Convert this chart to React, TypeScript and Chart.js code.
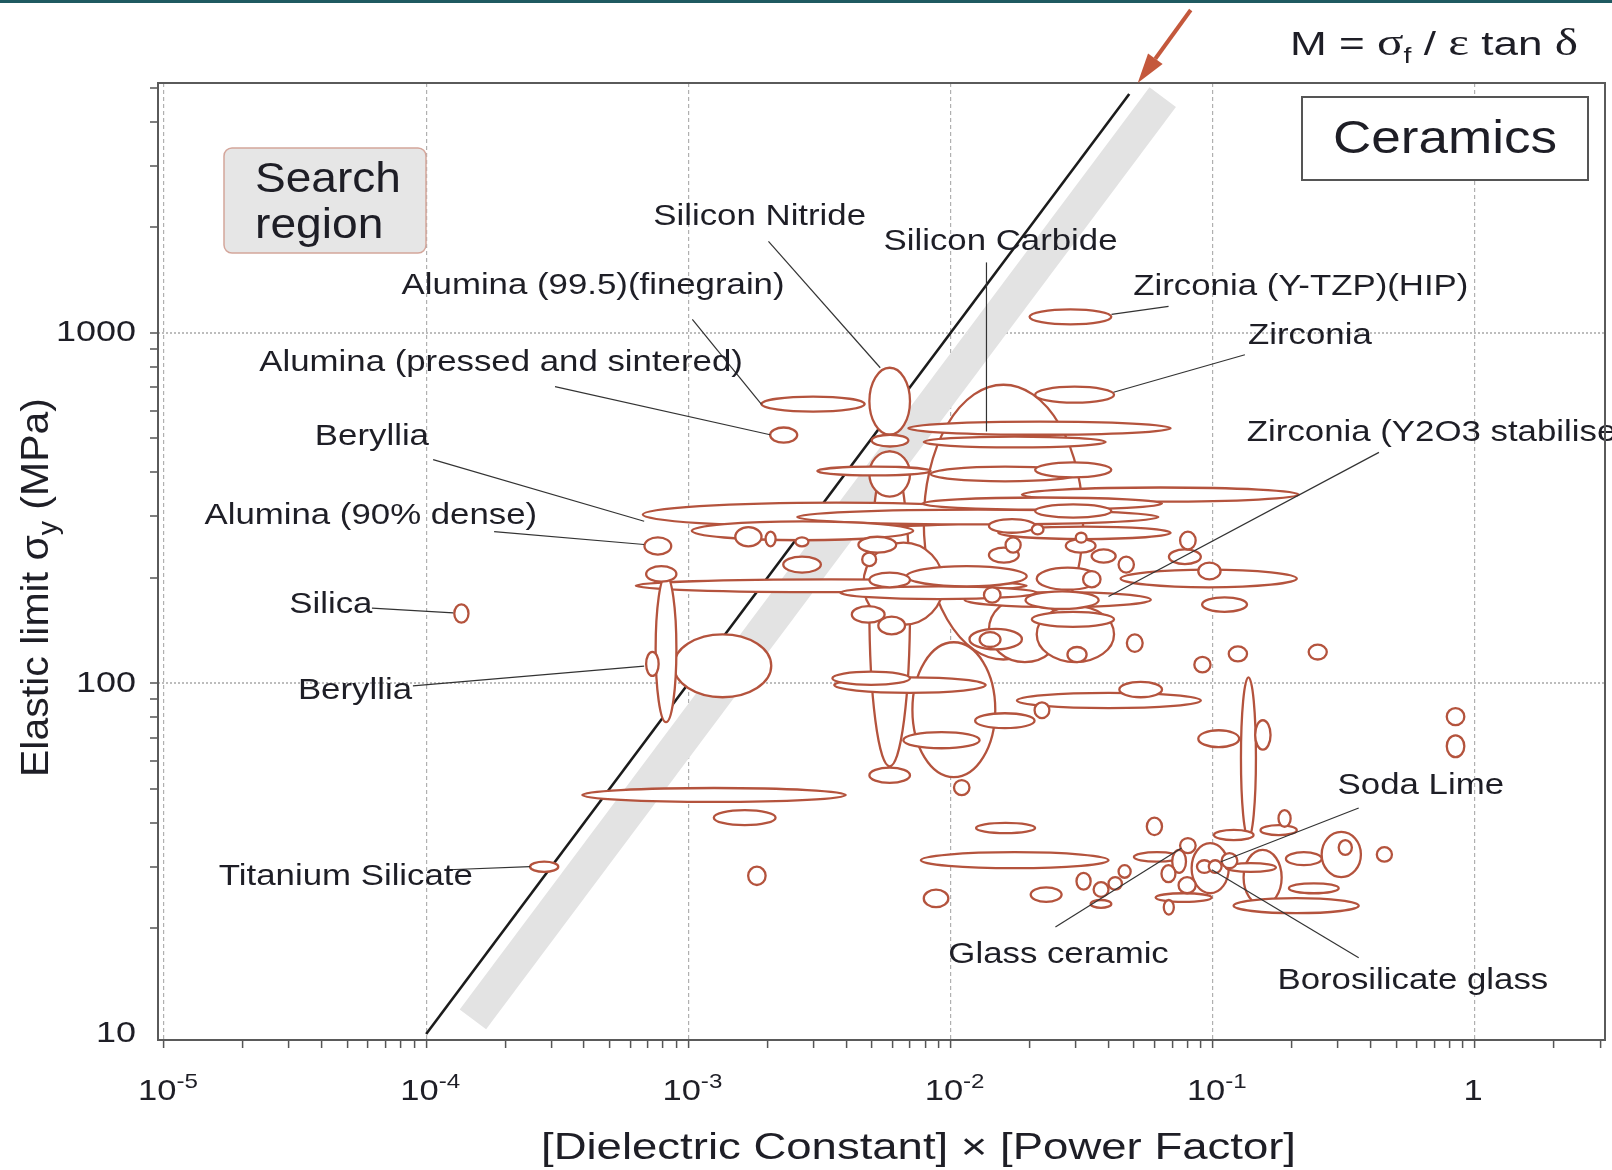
import React, { useEffect, useRef } from 'react';
import { Chart, registerables } from 'chart.js';

Chart.register(...registerables);

const FONT = '"Liberation Sans", Arial, Helvetica, sans-serif';
const SERIF = '"Liberation Serif", "Times New Roman", serif';
const RED = '#b4533d';
const ARROW = '#c4583c';
const INK = '#1e1e26';

// axis ranges
const X_MIN = 9.49e-6;
const X_MAX = 3.13;
const Y_MIN = 9.61;
const Y_MAX = 5160;

// tick labels
const xMajorTicks = [1e-5, 1e-4, 1e-3, 1e-2, 1e-1, 1];
const xTickLabels: [string, string][] = [['10', '-5'], ['10', '-4'], ['10', '-3'], ['10', '-2'], ['10', '-1'], ['1', '']];
const yMajorTicks = [10, 100, 1000];
const yTickLabels = ['10', '100', '1000'];

// property envelopes: [tanδ·ε low, high, σy low (MPa), high]
const aluminaBerylliaRanges: number[][] = [
  [0.0019, 0.0047, 596, 658],
  [0.00205, 0.0026, 486, 537],
  [0.00067, 0.02, 280, 328],
  [0.00103, 0.0072, 256, 290],
  [0.00151, 0.0019, 246, 279],
  [0.00197, 0.00215, 246, 271],
  [0.00256, 0.00287, 246, 261],
  [0.00068, 0.00086, 233, 261],
  [0.00069, 0.0009, 195, 216],
  [0.00063, 0.0195, 182, 198],
  [0.00075, 0.0009, 77.5, 203],
  [0.0023, 0.0032, 207, 230],
  [0.00088, 0.00207, 91.3, 138],
  [0.00069, 0.00077, 105, 123],
  [0.000394, 0.00398, 45.9, 50.3],
  [0.00125, 0.00215, 39.4, 43.5],
  [0.00169, 0.00197, 26.6, 30],
  [0.000128, 0.000145, 149, 168],
  [0.000249, 0.000319, 29, 31],
  [0.0031, 0.0084, 392, 415],
  [0.0026, 0.062, 284, 313],
];

const nitrideCarbideRanges: number[][] = [
  [0.0049, 0.007, 512, 795],
  [0.005, 0.0069, 474, 512],
  [0.0069, 0.069, 512, 558],
  [0.0079, 0.039, 471, 506],
  [0.0079, 0.032, 117, 711],
  [0.0049, 0.007, 341, 459],
  [0.0049, 0.007, 58, 459],
  [0.0084, 0.031, 377, 415],
  [0.0078, 0.064, 313, 339],
  [0.00445, 0.0062, 236, 262],
  [0.00465, 0.0094, 147, 252],
  [0.0049, 0.007, 188, 207],
  [0.0042, 0.0056, 149, 166],
  [0.0053, 0.0067, 138, 155],
  [0.0046, 0.0052, 216, 236],
  [0.0038, 0.0213, 174, 189],
  [0.0068, 0.0195, 189, 216],
  [0.00354, 0.007, 99, 108],
  [0.0036, 0.0136, 94, 104],
  [0.00715, 0.0148, 54, 131],
  [0.0066, 0.0129, 65.3, 72.6],
  [0.0049, 0.007, 52, 57.5],
  [0.0103, 0.0118, 48, 53],
  [0.0134, 0.0155, 170, 188],
  [0.014, 0.021, 269, 294],
  [0.014, 0.0182, 221, 244],
  [0.0162, 0.0185, 236, 261],
  [0.0118, 0.0187, 125, 143],
  [0.0129, 0.0155, 127, 140],
  [0.0124, 0.0209, 74.5, 82.2],
];

const zirconiaRanges: number[][] = [
  [0.02, 0.041, 1057, 1167],
  [0.021, 0.042, 632, 702],
  [0.021, 0.041, 387, 427],
  [0.0187, 0.213, 330, 362],
  [0.021, 0.041, 297, 324],
  [0.0152, 0.069, 258, 280],
  [0.0204, 0.0226, 266, 284],
  [0.0275, 0.0357, 236, 258],
  [0.03, 0.033, 252, 269],
  [0.075, 0.086, 241, 271],
  [0.068, 0.09, 219, 241],
  [0.0345, 0.0426, 221, 241],
  [0.0437, 0.05, 207, 230],
  [0.088, 0.107, 198, 221],
  [0.0445, 0.209, 188, 211],
  [0.032, 0.0373, 188, 209],
  [0.0193, 0.0367, 163, 183],
  [0.091, 0.135, 160, 176],
  [0.0204, 0.042, 145, 160],
  [0.0113, 0.058, 165, 182],
  [0.0213, 0.0367, 185, 214],
  [0.0213, 0.042, 115, 166],
  [0.014, 0.0263, 115, 176],
  [0.0279, 0.033, 115, 127],
  [0.047, 0.054, 123, 138],
  [0.085, 0.098, 107.5, 119],
  [0.115, 0.135, 115.5, 127.5],
  [0.232, 0.272, 117, 129],
  [0.044, 0.064, 91.3, 101],
  [0.0179, 0.09, 85, 94],
  [0.0209, 0.0238, 79.6, 88.3],
  [0.088, 0.126, 65.8, 73.5],
  [0.128, 0.146, 36.2, 104],
  [0.145, 0.166, 64.7, 78.5],
  [0.78, 0.91, 76, 85],
  [0.78, 0.91, 61.6, 71.1],
];

const glassRanges: number[][] = [
  [0.0125, 0.021, 37.4, 40],
  [0.0077, 0.04, 29.7, 33],
  [0.0079, 0.0098, 23, 25.8],
  [0.0202, 0.0265, 23.8, 26.2],
  [0.0302, 0.0342, 25.8, 28.8],
  [0.056, 0.064, 36.9, 41.4],
  [0.101, 0.143, 35.7, 38.2],
  [0.152, 0.209, 36.9, 39.4],
  [0.178, 0.198, 39, 43.5],
  [0.05, 0.075, 31, 33],
  [0.0351, 0.04, 24.6, 27.1],
  [0.04, 0.045, 25.8, 28],
  [0.0437, 0.0486, 27.9, 30.3],
  [0.0342, 0.041, 22.9, 24.1],
  [0.075, 0.086, 32.8, 36.2],
  [0.0637, 0.072, 27.1, 30.3],
  [0.074, 0.086, 25.2, 28],
  [0.083, 0.115, 25.2, 35],
  [0.087, 0.099, 28.8, 31.3],
  [0.0965, 0.108, 28.8, 31.3],
  [0.108, 0.124, 29.7, 32.8],
  [0.112, 0.174, 29, 30.7],
  [0.131, 0.183, 23.3, 33.5],
  [0.0605, 0.099, 23.8, 25.2],
  [0.065, 0.071, 21.9, 24.1],
  [0.12, 0.36, 22.1, 24.4],
  [0.195, 0.302, 25.2, 26.9],
  [0.19, 0.26, 30.3, 33],
  [0.26, 0.367, 28, 37.7],
  [0.302, 0.339, 32.4, 35.7],
  [0.422, 0.482, 31, 34.1],
  [0.07, 0.079, 28.8, 33.5],
];

// material labels: [text, x, y, align]
const materialLabels: [string, number, number, CanvasTextAlign][] = [
  ['Silicon Nitride', 0.00187, 2150, 'center'],
  ['Silicon Carbide', 0.0155, 1824, 'center'],
  ['Alumina (99.5)(finegrain)', 4.33e-4, 1366, 'center'],
  ['Zirconia (Y-TZP)(HIP)', 0.2166, 1357, 'center'],
  ['Zirconia', 0.2345, 984, 'center'],
  ['Alumina (pressed and sintered)', 1.93e-4, 823, 'center'],
  ['Beryllia', 6.21e-5, 506, 'center'],
  ['Alumina (90% dense)', 6.15e-5, 301, 'center'],
  ['Silica', 4.33e-5, 168, 'center'],
  ['Beryllia', 5.35e-5, 95.6, 'center'],
  ['Titanium Silicate', 4.94e-5, 28.0, 'center'],
  ['Zirconia (Y2O3 stabilised)', 0.1348, 519, 'left'],
  ['Soda Lime', 0.621, 51.0, 'center'],
  ['Glass ceramic', 0.0258, 16.8, 'center'],
  ['Borosilicate glass', 0.579, 14.2, 'center'],
];

// leader lines: [x1, y1, x2, y2]
const leaderLines: number[][] = [
  [0.00202, 1824, 0.00539, 795],
  [0.0137, 1588, 0.0137, 523],
  [0.001035, 1093, 0.0019, 625],
  [0.0411, 1129, 0.0678, 1190],
  [0.0418, 677, 0.1325, 866],
  [3.1e-4, 702, 0.00205, 512],
  [1.063e-4, 435, 6.78e-4, 290],
  [1.816e-4, 271, 6.78e-4, 249],
  [6.21e-5, 164, 1.268e-4, 159],
  [8.9e-5, 98.4, 6.78e-4, 112],
  [1.213e-4, 29.4, 2.49e-4, 30],
  [0.43, 456, 0.04, 177],
  [0.36, 44.1, 0.1073, 31],
  [0.0251, 20.2, 0.076, 33.9],
  [0.0991, 29.4, 0.36, 16.5],
];

// guide line M = 1e5 and search band
const guideLine = [[1e-4, 10], [0.048, 4800]];
const searchBand = [[1.507e-4, 11], [0.0644, 4700]];
const arrowTip = [0.0517, Y_MAX];

const allRanges = [...aluminaBerylliaRanges, ...nitrideCarbideRanges, ...zirconiaRanges, ...glassRanges];

const isDecade = (v: number) => Math.abs(Math.log10(v) - Math.round(Math.log10(v))) < 1e-6;
const isIntMultiple = (v: number) => {
  const e = Math.floor(Math.log10(v) + 1e-9);
  const s = v / Math.pow(10, e);
  return Math.abs(s - Math.round(s)) < 1e-6;
};

type Seg = { t: string; size: number; dy?: number; family?: string };

function drawRich(ctx: CanvasRenderingContext2D, segs: Seg[], x: number, y: number, align: string, sx: number | null, width?: number) {
  let total = 0;
  const ws = segs.map((s) => {
    ctx.font = `${s.size}px ${s.family || FONT}`;
    const w = ctx.measureText(s.t).width;
    total += w;
    return w;
  });
  const k = width ? width / total : (sx || 1);
  const full = total * k;
  const start = align === 'center' ? x - full / 2 : align === 'right' ? x - full : x;
  ctx.save();
  ctx.translate(start, y);
  ctx.scale(k, 1);
  ctx.textAlign = 'left';
  let cx = 0;
  segs.forEach((s, i) => {
    ctx.font = `${s.size}px ${s.family || FONT}`;
    ctx.fillText(s.t, cx, s.dy || 0);
    cx += ws[i];
  });
  ctx.restore();
}

const ashbyPlugin = {
  id: 'ashby',
  beforeDatasetsDraw(chart: any) {
    const { ctx, chartArea: a } = chart;
    const xs = chart.scales.x;
    const ys = chart.scales.y;
    const px = (v: number) => xs.getPixelForValue(v);
    const py = (v: number) => ys.getPixelForValue(v);
    ctx.save();
    ctx.beginPath();
    ctx.rect(a.left, a.top, a.right - a.left, a.bottom - a.top);
    ctx.clip();

    // search band
    ctx.strokeStyle = '#e3e3e3';
    ctx.lineWidth = 33;
    ctx.lineCap = 'butt';
    ctx.beginPath();
    ctx.moveTo(px(searchBand[0][0]), py(searchBand[0][1]));
    ctx.lineTo(px(searchBand[1][0]), py(searchBand[1][1]));
    ctx.stroke();

    // guide line
    ctx.strokeStyle = '#1c1c1c';
    ctx.lineWidth = 2.6;
    ctx.beginPath();
    ctx.moveTo(px(guideLine[0][0]), py(guideLine[0][1]));
    ctx.lineTo(px(guideLine[1][0]), py(guideLine[1][1]));
    ctx.stroke();

    // envelopes
    const shapes = allRanges
      .map(([x0, x1, y0, y1]) => {
        const a0 = px(x0), a1 = px(x1), b0 = py(y0), b1 = py(y1);
        return { cx: (a0 + a1) / 2, cy: (b0 + b1) / 2, rx: Math.abs(a1 - a0) / 2, ry: Math.abs(b1 - b0) / 2 };
      })
      .sort((p, q) => q.rx * q.ry - p.rx * p.ry);
    ctx.fillStyle = '#ffffff';
    ctx.strokeStyle = RED;
    ctx.lineWidth = 2.3;
    shapes.forEach((s) => {
      ctx.beginPath();
      ctx.ellipse(s.cx, s.cy, Math.max(s.rx, 1), Math.max(s.ry, 1), 0, 0, Math.PI * 2);
      ctx.fill();
      ctx.stroke();
    });
    ctx.restore();
  },
  afterDatasetsDraw(chart: any) {
    const { ctx, chartArea: a } = chart;
    const xs = chart.scales.x;
    const ys = chart.scales.y;
    const px = (v: number) => xs.getPixelForValue(v);
    const py = (v: number) => ys.getPixelForValue(v);
    ctx.save();

    // leader lines
    ctx.strokeStyle = '#333333';
    ctx.lineWidth = 1.2;
    leaderLines.forEach(([x1, y1, x2, y2]) => {
      ctx.beginPath();
      ctx.moveTo(px(x1), py(y1));
      ctx.lineTo(px(x2), py(y2));
      ctx.stroke();
    });

    // labels
    ctx.fillStyle = INK;
    ctx.textBaseline = 'middle';
    materialLabels.forEach(([t, x, y, al]) => {
      drawRich(ctx, [{ t, size: 30 }], px(x), py(y), al, 1.16);
    });

    // frame
    ctx.strokeStyle = '#5a5a5a';
    ctx.lineWidth = 2;
    ctx.strokeRect(a.left, a.top, a.right - a.left, a.bottom - a.top);

    // tick labels
    ctx.fillStyle = INK;
    ctx.textBaseline = 'alphabetic';
    xMajorTicks.forEach((v, i) => {
      const [base, sup] = xTickLabels[i];
      const segs: Seg[] = [{ t: base, size: 30 }];
      if (sup) segs.push({ t: sup, size: 21, dy: -12 });
      drawRich(ctx, segs, px(v) + (sup ? 4 : -2), a.bottom + 60, 'center', 1.15);
    });
    ctx.textBaseline = 'middle';
    yMajorTicks.forEach((v, i) => {
      drawRich(ctx, [{ t: yTickLabels[i], size: 30 }], a.left - 22, py(v), 'right', 1.2);
    });

    // axis titles
    ctx.textBaseline = 'alphabetic';
    drawRich(ctx, [{ t: '[Dielectric Constant] \u00d7 [Power Factor]', size: 36 }], (a.left + a.right) / 2 + 37, a.bottom + 119, 'center', null, 755);
    ctx.save();
    ctx.translate(48, (a.top + a.bottom) / 2 + 26);
    ctx.rotate(-Math.PI / 2);
    drawRich(ctx, [
      { t: 'Elastic limit \u03c3', size: 39 },
      { t: 'y', size: 27, dy: 9 },
      { t: ' (MPa)', size: 39 },
    ], 0, 0, 'center', null, 379);
    ctx.restore();

    // formula
    drawRich(ctx, [
      { t: 'M = ', size: 34 },
      { t: '\u03c3', size: 38, family: SERIF },
      { t: 'f', size: 22, dy: 8 },
      { t: ' / ', size: 34 },
      { t: '\u03b5', size: 38, family: SERIF },
      { t: ' tan ', size: 34 },
      { t: '\u03b4', size: 38, family: SERIF },
    ], a.right - 315, a.top - 28, 'left', null, 288);

    // Ceramics box
    ctx.fillStyle = '#ffffff';
    ctx.strokeStyle = '#555555';
    ctx.lineWidth = 2;
    ctx.fillRect(a.right - 303, a.top + 14, 286, 83);
    ctx.strokeRect(a.right - 303, a.top + 14, 286, 83);
    ctx.fillStyle = INK;
    drawRich(ctx, [{ t: 'Ceramics', size: 46 }], a.right - 160, a.top + 70, 'center', null, 224);

    // Search region box
    const bx = a.left + 66, by = a.top + 65, bw = 202, bh = 105, r = 8;
    ctx.beginPath();
    ctx.moveTo(bx + r, by);
    ctx.arcTo(bx + bw, by, bx + bw, by + bh, r);
    ctx.arcTo(bx + bw, by + bh, bx, by + bh, r);
    ctx.arcTo(bx, by + bh, bx, by, r);
    ctx.arcTo(bx, by, bx + bw, by, r);
    ctx.closePath();
    ctx.fillStyle = '#e6e6e6';
    ctx.fill();
    ctx.strokeStyle = '#d4a69b';
    ctx.lineWidth = 1.5;
    ctx.stroke();
    ctx.fillStyle = INK;
    drawRich(ctx, [{ t: 'Search', size: 42 }], a.left + 97, a.top + 109, 'left', null, 146);
    drawRich(ctx, [{ t: 'region', size: 42 }], a.left + 97, a.top + 155, 'left', 1.1);

    // arrow
    const tx = px(arrowTip[0]);
    const ty = py(arrowTip[1]);
    const sx = tx + 53, sy = ty - 73;
    const ang = Math.atan2(ty - sy, tx - sx);
    const hl = 30, hw = 9;
    const hbx = tx - hl * Math.cos(ang), hby = ty - hl * Math.sin(ang);
    ctx.strokeStyle = ARROW;
    ctx.lineWidth = 4;
    ctx.beginPath();
    ctx.moveTo(sx, sy);
    ctx.lineTo(hbx, hby);
    ctx.stroke();
    ctx.fillStyle = ARROW;
    ctx.beginPath();
    ctx.moveTo(tx, ty);
    ctx.lineTo(hbx + hw * Math.sin(ang), hby - hw * Math.cos(ang));
    ctx.lineTo(hbx - hw * Math.sin(ang), hby + hw * Math.cos(ang));
    ctx.closePath();
    ctx.fill();

    ctx.restore();
  },
};

export default function App() {
  const ref = useRef<HTMLCanvasElement | null>(null);
  useEffect(() => {
    if (!ref.current) return;
    const chart = new Chart(ref.current, {
      type: 'scatter',
      data: {
        datasets: [
          {
            label: 'envelope centres',
            data: allRanges.map(([x0, x1, y0, y1]) => ({ x: Math.sqrt(x0 * x1), y: Math.sqrt(y0 * y1) })),
            pointRadius: 0,
            pointHoverRadius: 0,
          },
        ],
      },
      options: {
        animation: false,
        responsive: false,
        devicePixelRatio: 1,
        events: [],
        layout: { padding: { top: 83, right: 7, left: 0, bottom: 0 } },
        plugins: { legend: { display: false }, tooltip: { enabled: false } },
        scales: {
          x: {
            type: 'logarithmic',
            position: 'bottom',
            min: X_MIN,
            max: X_MAX,
            afterBuildTicks: (s: any) => {
              s.ticks = s.ticks.filter((t: any) => isIntMultiple(t.value));
            },
            afterFit: (s: any) => {
              s.height = 130;
            },
            ticks: { display: false, autoSkip: false },
            grid: {
              color: (c: any) => (c.tick && isDecade(c.tick.value) ? '#b0b0b0' : 'rgba(0,0,0,0)'),
              lineWidth: 1.2,
              tickColor: '#555555',
              tickLength: 8,
              tickWidth: 1.5,
            },
            border: { display: false, dash: [4, 3] },
          },
          y: {
            type: 'logarithmic',
            position: 'left',
            min: Y_MIN,
            max: Y_MAX,
            afterBuildTicks: (s: any) => {
              s.ticks = s.ticks.filter((t: any) => isIntMultiple(t.value));
            },
            afterFit: (s: any) => {
              s.width = 158;
            },
            ticks: { display: false, autoSkip: false },
            grid: {
              color: (c: any) => (c.tick && isDecade(c.tick.value) ? '#bdbdbd' : 'rgba(0,0,0,0)'),
              lineWidth: 2,
              tickColor: '#555555',
              tickLength: 8,
              tickWidth: 1.5,
            },
            border: { display: false, dash: [2, 2] },
          },
        },
      },
      plugins: [ashbyPlugin],
    } as any);
    return () => chart.destroy();
  }, []);

  return (
    <div style={{ position: 'absolute', left: 0, top: 0, width: 1612, height: 1170, background: '#ffffff' }}>
      <canvas ref={ref} width={1612} height={1170} style={{ display: 'block', width: 1612, height: 1170 }} />
      <div style={{ position: 'absolute', left: 0, top: 0, width: 1612, height: 3, background: '#1f5a61' }} />
    </div>
  );
}
